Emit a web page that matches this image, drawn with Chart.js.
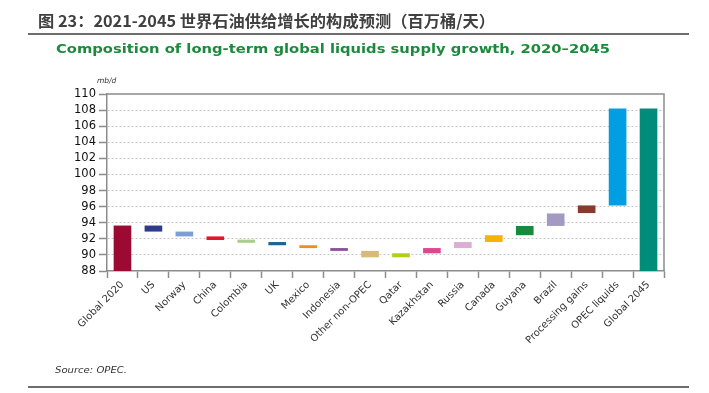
<!DOCTYPE html>
<html>
<head>
<meta charset="utf-8">
<script src="https://cdn.jsdelivr.net/npm/chart.js@4/dist/chart.umd.min.js"></script>
<style>
  html, body { margin: 0; padding: 0; background: #fff; }
  #wrap { position: relative; width: 709px; height: 393px; overflow: hidden; }
  #c { position: absolute; left: 0; top: 0; }
  .t { position: absolute; white-space: nowrap; transform-origin: 0 50%; }
  #title { left: 38px; top: 20px; font-family: "Noto Sans CJK SC", sans-serif; font-weight: 700; font-size: 16px; color: #404040; transform: translateY(-50%); }
  #sub { left: 56px; top: 48px; font-family: "DejaVu Sans", sans-serif; font-weight: 700; font-size: 13px; color: #1b8a3c; transform: translateY(-50%); }
  #unit { left: 97px; top: 80px; font-family: "DejaVu Sans", sans-serif; font-style: italic; font-size: 7.5px; color: #333; transform: translateY(-50%); }
  #src { left: 55px; top: 370px; font-family: "DejaVu Sans", sans-serif; font-style: italic; font-size: 8.5px; color: #333; transform: translateY(-50%); }
  .rule { position: absolute; left: 28px; width: 661px; height: 2px; background: #6e6e6e; }
</style>
</head>
<body>
<div id="wrap">
  <canvas id="c" width="709" height="393"></canvas>
  <div class="t" id="title">图 23：2021-2045 世界石油供给增长的构成预测（百万桶/天）</div>
  <div class="rule" style="top:33px"></div>
  <div class="t" id="sub">Composition of long-term global liquids supply growth, 2020–2045</div>
  <div class="t" id="unit">mb/d</div>
  <div class="t" id="src">Source: OPEC.</div>
  <div class="rule" style="top:386px"></div>
</div>
<script>
// ---- data ----
const categories = ["Global 2020", "US", "Norway", "China", "Colombia", "UK", "Mexico", "Indonesia",
  "Other non-OPEC", "Qatar", "Kazakhstan", "Russia", "Canada", "Guyana", "Brazil",
  "Processing gains", "OPEC liquids", "Global 2045"];
const barLow  = [88.0, 92.9, 92.3, 91.85, 91.5, 91.2, 90.85, 90.5, 89.7, 89.7, 90.2, 90.85, 91.6, 92.45, 93.6, 95.2, 96.15, 88.0];
const barHigh = [93.65, 93.65, 92.9, 92.3, 91.9, 91.6, 91.2, 90.85, 90.5, 90.2, 90.85, 91.6, 92.45, 93.6, 95.15, 96.15, 108.2, 108.2];
const barColors = ["#9b0a33", "#2e3a8c", "#7b9fd4", "#e3152b", "#a8d08d", "#1a6496", "#f28c1c", "#8c4f9f",
  "#d9b97a", "#b5cc18", "#e0468f", "#dcaed1", "#f5b400", "#178a3e", "#a499c3", "#843c2e", "#009fe3", "#008c7a"];
const yMin = 88, yMax = 110, yStep = 2;

function fit(id, w) {
  const el = document.getElementById(id);
  const cur = el.getBoundingClientRect().width;
  const s = w / cur;
  el.style.transform = "translateY(-50%) scaleX(" + s.toFixed(4) + ")";
}
fit("title", 457);
fit("sub", 554);
fit("src", 72);

const frame = {
  id: "frame",
  afterDraw(chart) {
    const a = chart.chartArea, ctx = chart.ctx;
    ctx.save();
    ctx.strokeStyle = "#8c8c8c";
    ctx.lineWidth = 1.5;
    ctx.beginPath();
    ctx.moveTo(a.left, a.top);
    ctx.lineTo(a.right, a.top);
    ctx.lineTo(a.right, a.bottom);
    ctx.stroke();
    ctx.restore();
  }
};

new Chart(document.getElementById("c"), {
  type: "bar",
  data: {
    labels: categories,
    datasets: [{
      data: categories.map((_, i) => [barLow[i], barHigh[i]]),
      backgroundColor: barColors,
      borderWidth: 0,
      borderSkipped: false,
      categoryPercentage: 1,
      barPercentage: 0.57
    }]
  },
  options: {
    responsive: false,
    animation: false,
    devicePixelRatio: 1,
    layout: { padding: { left: 0, top: 94, right: 45, bottom: 0 } },
    plugins: { legend: { display: false }, tooltip: { enabled: false }, title: { display: false } },
    scales: {
      x: {
        offset: true,
        afterFit: s => { s.height = 122; },
        grid: { offset: true, drawOnChartArea: false, drawTicks: true, tickLength: 7, tickColor: "#8c8c8c", tickWidth: 1.5 },
        border: { display: true, color: "#8c8c8c", width: 1.5 },
        ticks: {
          autoSkip: false, maxRotation: 45, minRotation: 45, padding: 1,
          font: { family: "DejaVu Sans", size: 10 }, color: "#333"
        }
      },
      y: {
        min: yMin, max: yMax,
        afterFit: s => { s.width = 107; },
        grid: {
          drawOnChartArea: true, drawTicks: true, tickLength: 8,
          color: ctx => (ctx.tick && (ctx.tick.value === yMin || ctx.tick.value === yMax)) ? "rgba(0,0,0,0)" : "#c6c6c6",
          lineWidth: 1,
          tickColor: "#8c8c8c", tickWidth: 1.5, tickBorderDash: []
        },
        border: { display: true, color: "#8c8c8c", width: 1.5, dash: [2, 2] },
        ticks: {
          autoSkip: false, stepSize: yStep, padding: 3,
          font: { family: "DejaVu Sans", size: 11.5 }, color: "#111"
        }
      }
    }
  },
  plugins: [frame]
});
</script>
</body>
</html>
